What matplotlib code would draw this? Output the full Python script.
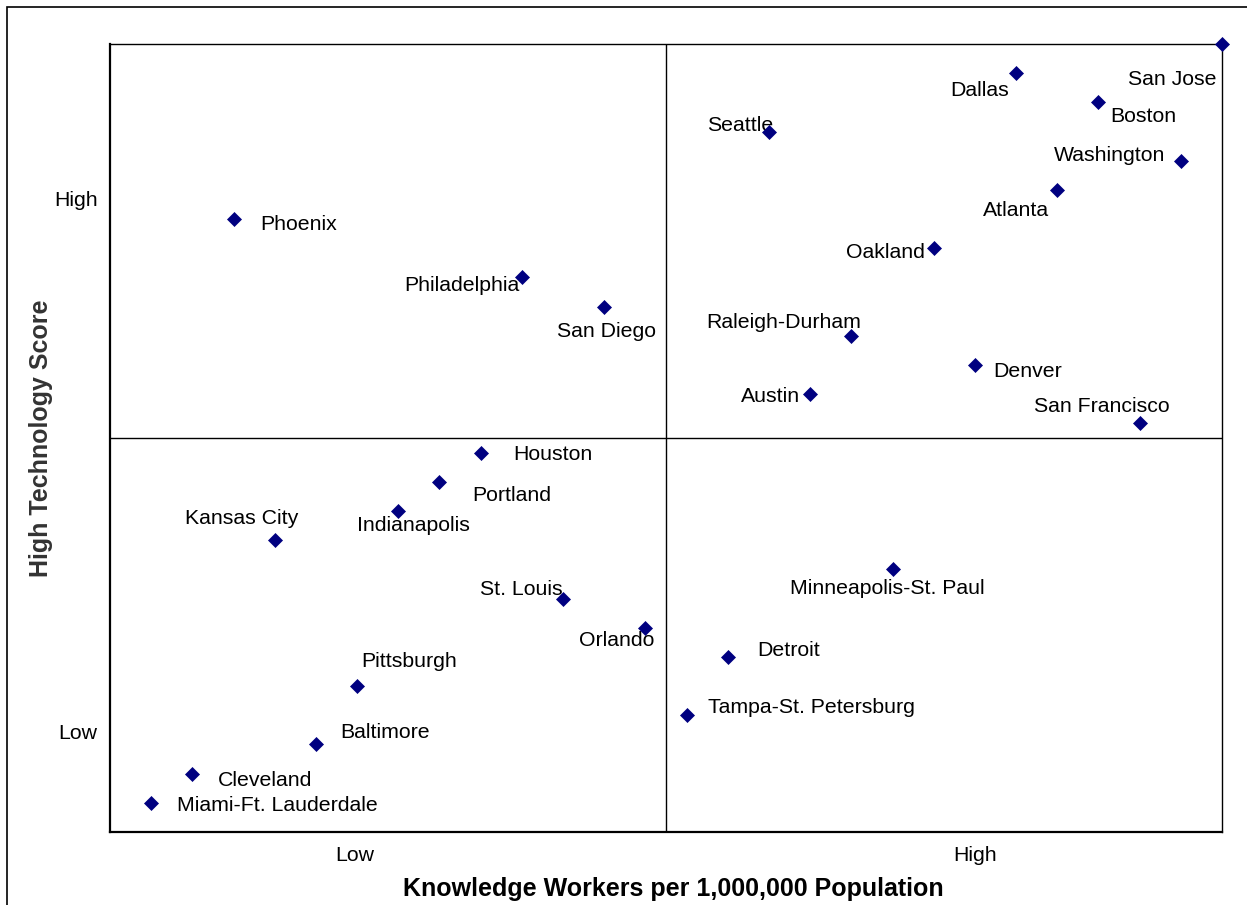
import matplotlib
matplotlib.use('Agg')
import matplotlib.pyplot as plt
from matplotlib.patches import Rectangle

plt.rcParams['font.family'] = ['Liberation Sans', 'DejaVu Sans']

# 城市排名（知识工作者, 高科技得分），1-27
cities = ['Miami-Ft. Lauderdale', 'Cleveland', 'Baltimore', 'Pittsburgh',
          'Tampa-St. Petersburg', 'Detroit', 'Orlando', 'St. Louis',
          'Minneapolis-St. Paul', 'Kansas City', 'Indianapolis', 'Portland',
          'Houston', 'San Francisco', 'Austin', 'Denver', 'Raleigh-Durham',
          'San Diego', 'Philadelphia', 'Oakland', 'Phoenix', 'Atlanta',
          'Washington', 'Seattle', 'Boston', 'Dallas', 'San Jose']
knowledge = [1, 2, 5, 6, 14, 15, 13, 11, 19, 4, 7, 8, 9, 25, 17, 21, 18,
             12, 10, 20, 3, 23, 26, 16, 24, 22, 27]
hightech = [1, 2, 3, 5, 4, 6, 7, 8, 9, 10, 11, 12, 13, 14, 15, 16, 17,
            18, 19, 20, 21, 22, 23, 24, 25, 26, 27]

# 标签偏移 (像素) 和对齐
label_pos = {
    'Miami-Ft. Lauderdale': (26, -3, 'left'),
    'Cleveland': (26, -7, 'left'),
    'Baltimore': (24, 12, 'left'),
    'Pittsburgh': (4, 25, 'left'),
    'Tampa-St. Petersburg': (21, 8, 'left'),
    'Detroit': (29, 6, 'left'),
    'Orlando': (9, -13, 'right'),
    'St. Louis': (0, 9, 'right'),
    'Minneapolis-St. Paul': (-103, -19, 'left'),
    'Kansas City': (-33, 22, 'center'),
    'Indianapolis': (-41, -15, 'left'),
    'Portland': (33, -14, 'left'),
    'Houston': (33, -2, 'left'),
    'San Francisco': (30, 17, 'right'),
    'Austin': (-10, -2, 'right'),
    'Denver': (18, -6, 'left'),
    'Raleigh-Durham': (10, 13, 'right'),
    'San Diego': (2, -25, 'center'),
    'Philadelphia': (-2, -8, 'right'),
    'Oakland': (-9, -4, 'right'),
    'Phoenix': (27, -5, 'left'),
    'Atlanta': (-8, -21, 'right'),
    'Washington': (-16, 5, 'right'),
    'Seattle': (4, 6, 'right'),
    'Boston': (12, -14, 'left'),
    'Dallas': (-7, -17, 'right'),
    'San Jose': (-6, -35, 'right'),
}

xtick_pos = [5.95, 21.0]
ytick_pos = [3.46, 21.72]

fig = plt.figure(figsize=(12.47, 9.05), dpi=100)
ax = fig.add_axes([110/1247, 1 - 832/905, 1112/1247, 788/905])

ax.set_xlim(0, 27)
ax.set_ylim(0, 27)

ax.axvline(13.5, color='black', linewidth=1)
ax.axhline(13.5, color='black', linewidth=1)

ax.plot(knowledge, hightech, linestyle='none', marker='D', markersize=7.5,
        color='#000080', markeredgewidth=0.5, clip_on=False, zorder=5)

for name, x, y in zip(cities, knowledge, hightech):
    dx, dy, ha = label_pos[name]
    ax.annotate(name, (x, y), xytext=(dx, dy), textcoords='offset pixels',
                ha=ha, va='center', fontsize=15.3, color='black')

ax.set_xticks(xtick_pos)
ax.set_xticklabels(['Low', 'High'], fontsize=15.3)
ax.set_yticks(ytick_pos)
ax.set_yticklabels(['Low', 'High'], fontsize=15.3)
ax.tick_params(axis='both', length=0)
ax.tick_params(axis='x', pad=10)
ax.tick_params(axis='y', pad=9)

ax.set_xlabel('Knowledge Workers per 1,000,000 Population', fontsize=18,
              fontweight='bold', va='center')
ax.xaxis.set_label_coords(0.507, -0.0723)
ax.set_ylabel('High Technology Score', fontsize=18, fontweight='bold',
              color='#333333', va='center')
ax.yaxis.set_label_coords(-0.062, 0.5)

for side in ['left', 'bottom']:
    ax.spines[side].set_linewidth(1.6)
for side in ['top', 'right']:
    ax.spines[side].set_linewidth(1.0)

# 外框
fig.patches.append(Rectangle((7/1247, -0.1), 1.2, 1 - 7/905 + 0.1,
                             transform=fig.transFigure, fill=False,
                             edgecolor='black', linewidth=1.2))

fig.savefig('out.png', dpi=100)
